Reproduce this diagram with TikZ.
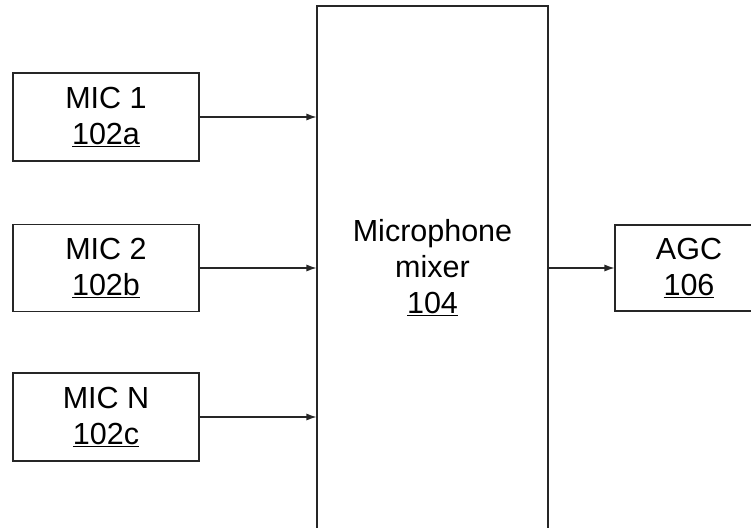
\documentclass[tikz,border=0pt]{standalone}
\usepackage{fontspec}
\setmainfont{Liberation Sans}
\usetikzlibrary{arrows.meta}
\newcommand{\refnum}[1]{\underline{#1}}

\begin{document}
\begin{tikzpicture}[x=1pt, y=-1pt,
			>={Latex[length=10pt,width=7pt]},   % arrow tips
			block/.style={draw=black!85, line width=1.1pt, align=center, inner sep=0pt, font=\fontsize{30.5}{36}\selectfont},
			line/.style={draw=black!85, line width=1.1pt, ->}]
			% picture frame
			\useasboundingbox (0,0) rectangle (751,527);
			\clip (0,0) rectangle (751,527);
			% microphones
			\node[block, minimum width=186, minimum height=88] (mic1) at (106,117) {MIC 1\\\refnum{102a}};
			\node[block, minimum width=186, minimum height=87] (mic2) at (106,268) {MIC 2\\\refnum{102b}};
			\node[block, minimum width=186, minimum height=88] (micn) at (106,417) {MIC N\\\refnum{102c}};
			% mixer and agc (cut off by the frame)
			\node[block, minimum width=231, minimum height=524] (mixer) at (432.5,268) {Microphone\\mixer\\\refnum{104}};
			\node[block, minimum width=148, minimum height=86] (agc) at (689,268) {AGC\\\refnum{106}};
			% connectors
			\draw[line] (mic1.east) -- (mic1.east -| mixer.west);
			\draw[line] (mic2.east) -- (mic2.east -| mixer.west);
			\draw[line] (micn.east) -- (micn.east -| mixer.west);
			\draw[line] (mixer.east |- agc.west) -- (agc.west);
		\end{tikzpicture}
\end{document}
